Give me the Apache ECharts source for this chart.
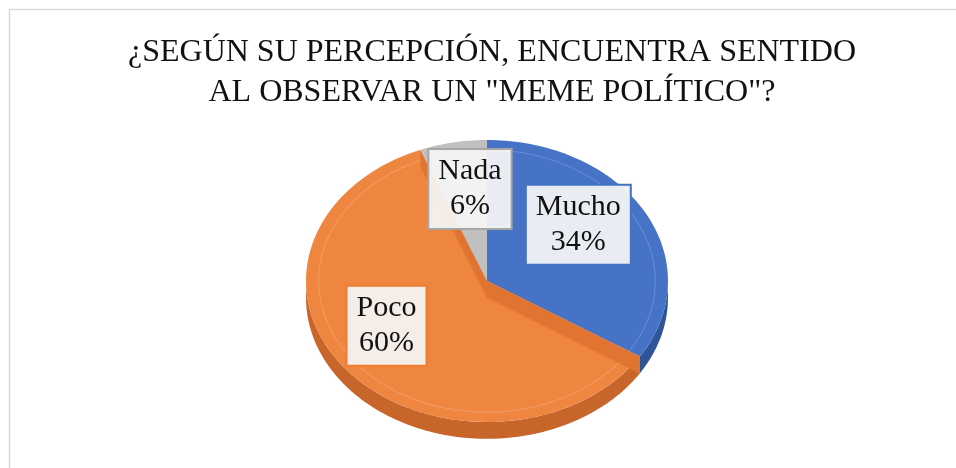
<!DOCTYPE html>
<html>
<head>
<meta charset="utf-8">
<script src="https://cdn.jsdelivr.net/npm/echarts@6/dist/echarts.min.js"></script>
<style>
  html, body { margin: 0; padding: 0; background: #ffffff; }
  #chart { width: 956px; height: 468px; }
</style>
</head>
<body>
<div id="chart"></div>
<script>
// Survey answers and their shares (%)
const categories = ['Mucho', 'Poco', 'Nada'];
const percentages = [34, 60, 6];
const titleLines = ['¿SEGÚN SU PERCEPCIÓN, ENCUENTRA SENTIDO', 'AL OBSERVAR UN "MEME POLÍTICO"?'];

// Slice colours: top face, outer side, cut face, label border
const palette = {
  Mucho: { top: '#4673c6', side: '#2f5597', wall: '#3a64b0', border: '#4472c4' },
  Poco:  { top: '#ee8640', side: '#c8652a', wall: '#df732f', border: '#ed7d31' },
  Nada:  { top: '#c0c0c0', side: '#8f8f8f', wall: '#a8a8a8', border: '#a5a5a5' }
};
// Small manual offsets for the data-label boxes
const labelNudge = { Mucho: [-7, -14], Poco: [-14, -11], Nada: [4, -6] };

const total = percentages.reduce((a, b) => a + b, 0);
const starts = [];
let acc = 0;
percentages.forEach(v => { starts.push(acc); acc += v; });

const FONT = '"Liberation Serif", "Times New Roman", "DejaVu Serif", serif';

function renderSlice(params, api) {
  const i = params.dataIndex;
  const name = categories[i];
  const col = palette[name];
  const W = api.getWidth(), H = api.getHeight();
  // tilted pie: elliptical top face with a shallow side
  const cx = W * 0.5094, cy = H * 0.6004, rx = W * 0.1893, ry = H * 0.3013, depth = H * 0.036;
  const value = api.value(0);
  const a0 = starts[i] / total * 360;
  const a1 = (starts[i] + value) / total * 360;

  const pt = (deg, dy, f) => {
    const r = deg * Math.PI / 180;
    const k = f == null ? 1 : f;
    return [cx + rx * k * Math.sin(r), cy - ry * k * Math.cos(r) + (dy || 0)];
  };
  const arc = (from, to, dy, f) => {
    const pts = [];
    const n = Math.max(2, Math.ceil(Math.abs(to - from) / 1.5));
    for (let k = 0; k <= n; k++) pts.push(pt(from + (to - from) * k / n, dy, f));
    return pts;
  };

  const children = [];

  // outer side wall (front half only)
  const s = Math.max(a0, 90), e = Math.min(a1, 270);
  if (e > s) {
    const pts = arc(s, e, 0).concat(arc(s, e, depth).reverse());
    children.push({
      type: 'polygon', z2: 1,
      shape: { points: pts },
      style: { fill: col.side }
    });
  }

  // top face
  children.push({
    type: 'polygon', z2: 2,
    shape: { points: [[cx, cy]].concat(arc(a0, a1, 0)) },
    style: { fill: col.top }
  });

  // faint inner rim line on the top face
  children.push({
    type: 'polyline', z2: 3,
    shape: { points: arc(a0, a1, 0, 0.93) },
    style: { stroke: 'rgba(255,255,255,0.16)', lineWidth: 1.2, fill: null }
  });

  // cut faces of the front slice
  if (a0 <= 180 && a1 >= 180) {
    [a0, a1].forEach(a => {
      const p = pt(a, 0);
      children.push({
        type: 'polygon', z2: 4,
        shape: { points: [[cx, cy], p, [p[0], p[1] + depth], [cx, cy + depth]] },
        style: { fill: col.wall, opacity: 0.95 }
      });
    });
  }

  // data label box
  const mid = (a0 + a1) / 2;
  const lp = pt(mid, 0, 0.62);
  const nudge = labelNudge[name] || [0, 0];
  children.push({
    type: 'text', z2: 10,
    x: lp[0] + nudge[0], y: lp[1] + nudge[1],
    style: {
      text: name + '\n' + value + '%',
      font: '30px ' + FONT,
      lineHeight: 35,
      fill: '#111111',
      align: 'center',
      verticalAlign: 'middle',
      backgroundColor: 'rgba(245,245,245,0.93)',
      borderColor: col.border,
      borderWidth: 2,
      padding: [4, 9]
    }
  });

  return { type: 'group', children: children };
}

const chart = echarts.init(document.getElementById('chart'), null, { renderer: 'canvas' });
chart.setOption({
  backgroundColor: '#ffffff',
  animation: false,
  title: {
    text: titleLines.join('\n'),
    left: 487,
    top: 28,
    textAlign: 'center',
    textStyle: {
      fontFamily: FONT,
      fontSize: 32,
      fontWeight: 'normal',
      lineHeight: 40,
      color: '#111111'
    }
  },
  graphic: [{
    type: 'rect', silent: true, z: -1,
    shape: { x: 9.5, y: 9.5, width: 980, height: 500 },
    style: { fill: 'none', stroke: '#d9d9d9', lineWidth: 1.5 }
  }],
  series: [{
    type: 'custom',
    coordinateSystem: 'none',
    renderItem: renderSlice,
    data: percentages.map((v, i) => ({ name: categories[i], value: v }))
  }]
});
</script>
</body>
</html>
